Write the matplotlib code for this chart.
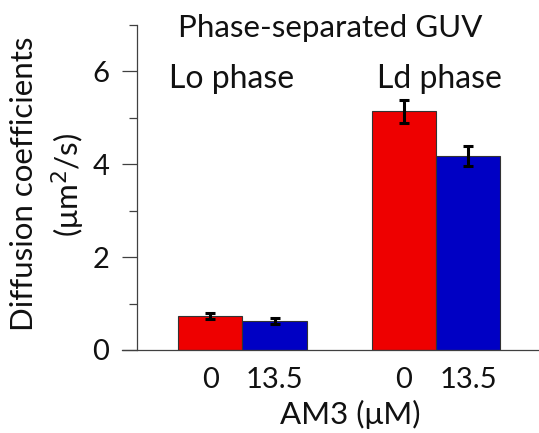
import matplotlib
matplotlib.use("Agg")
import matplotlib.pyplot as plt
from matplotlib.ticker import MultipleLocator

plt.rcParams['font.family'] = ['Lato', 'DejaVu Sans']

groups = ["Lo phase", "Ld phase"]
conc_labels = ["0", "13.5"]
control_vals = [0.73, 5.14]
control_err = [0.06, 0.25]
am3_vals = [0.63, 4.18]
am3_err = [0.07, 0.22]

red = "#EE0000"
blue = "#0000C4"
axcol = "#404040"
txtcol = "#111111"

fig = plt.figure(figsize=(5.39, 4.33), dpi=100)
ax = fig.add_axes([137/539, 1-350/433, 1-137/539, (350-25)/433])

w = 0.333
gpos = [0, 1]
rx = [g - w/2 for g in gpos]
bx = [g + w/2 for g in gpos]
ekw = dict(elinewidth=2.2, capthick=2.2, ecolor="black")
ax.bar(rx, control_vals, width=w, color=red, edgecolor="#333333", linewidth=0.8,
       yerr=control_err, capsize=3.4, error_kw=ekw, zorder=2)
ax.bar(bx, am3_vals, width=w, color=blue, edgecolor="#333333", linewidth=0.8,
       yerr=am3_err, capsize=3.4, error_kw=ekw, zorder=2)

ax.set_xlim(-0.544, 1.532)
ax.set_ylim(0, 7)
ax.yaxis.set_major_locator(MultipleLocator(2))
ax.yaxis.set_minor_locator(MultipleLocator(1))
ax.tick_params(axis='y', which='major', length=11, width=0.9, color=axcol,
               labelsize=21, pad=9, direction='out', labelcolor=txtcol)
ax.tick_params(axis='y', which='minor', length=6, width=0.9, color=axcol, direction='out')

ticks = []
labels = []
for r, b in zip(rx, bx):
    ticks += [r, b]
    labels += conc_labels
ax.set_xticks(ticks)
ax.set_xticklabels(labels)
ax.tick_params(axis='x', length=0, labelsize=21, pad=12, labelcolor=txtcol)

for s in ['top', 'right', 'bottom']:
    ax.spines[s].set_visible(False)
ax.spines['left'].set_color(axcol)
ax.spines['left'].set_linewidth(0.9)
ax.plot([-15/402, 1.0], [0, 0], transform=ax.transAxes, color=axcol, lw=0.9, clip_on=False, zorder=3)

fig.text(350/539, 1-424/433, "AM3 (\u03bcM)", fontsize=22.5, ha='center', va='baseline', color=txtcol)

fig.text(24/539, 1-184/433, "Diffusion coefficients", fontsize=22.5, rotation=90,
         ha='center', va='center', color=txtcol)
fig.text(68/539, 1-185/433, "(\u03bcm$^2$/s)", fontsize=22.5, rotation=90,
         ha='center', va='center', color=txtcol)

fig.text(330/539, 1-37/433, "Phase-separated GUV", fontsize=22.5, ha='center', va='baseline', color=txtcol)
for xg, name in zip([-0.058, 1.016], groups):
    ax.text(xg, 5.64, name, fontsize=23, ha='center', va='baseline', color=txtcol)

fig.savefig("out.png", dpi=100)
